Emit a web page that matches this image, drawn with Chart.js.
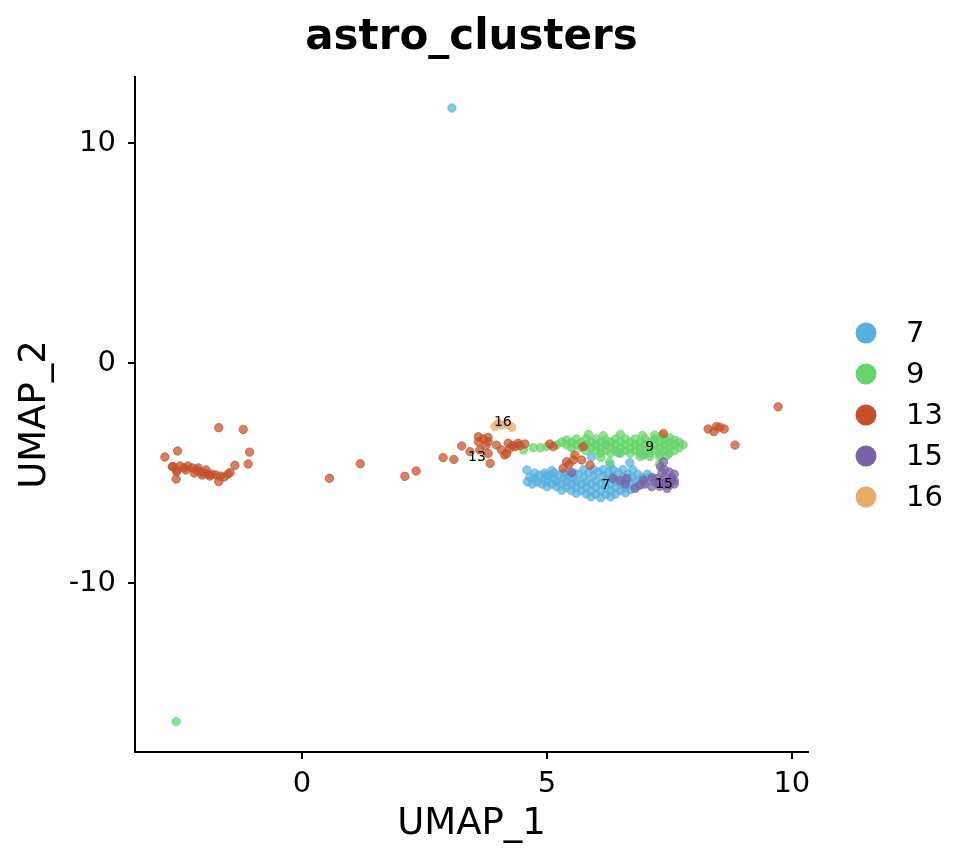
<!DOCTYPE html>
<html>
<head>
<meta charset="utf-8">
<script src="https://cdn.jsdelivr.net/npm/chart.js@4.4.1/dist/chart.umd.min.js"></script>
<style>
  body { margin: 0; background: #fff; }
  canvas { display: block; }
</style>
</head>
<body>
<canvas id="umap" width="960" height="864"></canvas>
<script>
// --- Data (UMAP coordinates) ---
const clusterNames = ['7', '9', '13', '15', '16'];
const clusterColors = ['#58B0DE', '#66D46A', '#C5502A', '#7A63A5', '#E5AD66'];

const cluster7 = [
    [3.06, 11.59], [4.59, -4.86], [5.10, -4.89], [5.91, -4.26], [6.69, -4.53], [6.29, -4.64],
    [6.97, -4.18], [6.46, -4.08], [5.00, -5.10],
    [4.75, -5.0], [4.95, -5.0], [5.15, -5.0], [5.35, -5.0], [5.55, -5.0],
    [5.75, -4.85], [5.95, -4.85], [6.15, -4.85], [6.35, -4.85], [6.55, -4.85], [6.75, -4.85],
    [4.85, -5.1], [5.05, -5.1], [5.25, -5.1], [5.45, -5.1], [5.65, -5.05], [5.85, -5.0], [6.05, -4.95],
    [6.25, -5.0], [6.45, -5.0], [6.65, -5.05], [6.85, -5.05], [7.05, -5.05],
    [4.65, -5.2], [4.75, -5.25], [4.95, -5.25], [5.15, -5.25], [5.35, -5.25], [5.55, -5.25], [5.75, -5.2],
    [5.95, -5.15], [6.15, -5.15], [6.35, -5.15], [6.55, -5.2], [6.75, -5.2], [6.95, -5.2], [7.1, -5.2],
    [4.6, -5.4], [4.8, -5.4], [5.0, -5.4], [5.2, -5.4], [5.4, -5.4], [5.6, -5.4], [5.8, -5.4],
    [6.0, -5.35], [6.2, -5.35], [6.4, -5.35], [6.6, -5.4], [6.8, -5.4], [7.0, -5.4],
    [4.7, -5.5], [4.9, -5.5], [5.1, -5.5], [5.3, -5.5], [5.5, -5.5], [5.7, -5.5], [5.9, -5.5],
    [6.1, -5.5], [6.3, -5.5], [6.5, -5.5], [6.7, -5.5], [6.9, -5.5],
    [5.0, -5.62], [5.2, -5.62], [5.4, -5.65], [5.6, -5.65], [5.8, -5.65], [6.0, -5.65], [6.2, -5.65],
    [6.4, -5.65], [6.6, -5.65], [6.8, -5.62],
    [5.3, -5.78], [5.5, -5.8], [5.7, -5.8], [5.9, -5.82], [6.1, -5.82], [6.3, -5.82], [6.5, -5.8], [6.7, -5.75],
    [5.6, -5.92], [5.8, -5.95], [6.0, -5.97], [6.2, -5.97], [6.4, -5.95], [6.6, -5.9],
    [5.9, -6.08], [6.1, -6.12], [6.3, -6.08]
];

const cluster9 = [
    [-2.57, -16.3], [4.52, -3.95], [4.72, -3.85], [4.87, -3.85], [5.0, -3.8],
    [5.85, -3.25], [6.15, -3.3], [6.5, -3.25], [6.95, -3.3], [7.2, -3.28], [7.35, -3.3], [7.5, -3.4], [7.6, -3.5],
    [5.4, -3.5], [5.6, -3.45], [5.8, -3.45], [6.0, -3.45], [6.2, -3.5], [6.4, -3.45], [6.6, -3.45],
    [6.8, -3.45], [7.0, -3.45], [7.2, -3.45], [7.4, -3.5],
    [5.3, -3.6], [5.5, -3.6], [5.7, -3.6], [5.9, -3.6], [6.1, -3.6], [6.3, -3.6], [6.5, -3.6],
    [6.7, -3.6], [6.9, -3.6], [7.1, -3.6], [7.3, -3.6], [7.5, -3.6], [7.7, -3.6],
    [5.2, -3.72], [5.4, -3.72], [5.6, -3.72], [5.8, -3.72], [6.0, -3.72], [6.2, -3.72], [6.4, -3.72],
    [6.6, -3.72], [6.8, -3.72], [7.0, -3.72], [7.2, -3.72], [7.4, -3.72], [7.6, -3.72], [7.78, -3.72],
    [5.5, -3.85], [5.7, -3.85], [5.9, -3.85], [6.1, -3.85], [6.3, -3.85], [6.5, -3.85], [6.7, -3.85],
    [6.9, -3.85], [7.1, -3.85], [7.3, -3.85], [7.5, -3.85], [7.7, -3.85],
    [5.8, -3.98], [6.0, -3.98], [6.2, -3.98], [6.4, -3.98], [6.6, -3.98], [6.8, -3.98], [7.0, -3.98],
    [7.2, -3.98], [7.4, -3.98], [7.6, -3.98],
    [6.1, -4.1], [6.3, -4.1], [6.5, -4.1], [6.7, -4.1], [6.9, -4.1], [7.1, -4.1], [7.3, -4.1], [7.5, -4.1],
    [6.1, -4.3], [6.9, -4.25], [7.1, -4.25], [7.3, -4.25], [7.45, -4.2],
    [6.28, -4.5], [7.3, -4.6]
];

const cluster13 = [
    [-1.70, -2.94], [-1.20, -3.02], [-2.54, -4.00], [-2.80, -4.27], [-1.07, -4.05], [-1.10, -4.59],
    [-1.37, -4.65], [-1.47, -4.98], [-2.65, -4.71], [-2.57, -5.27], [-1.70, -5.39], [-2.56, -4.86],
    [-2.63, -4.71], [-2.56, -4.94],
    [-2.49, -4.68], [-2.41, -4.77], [-2.33, -4.68], [-2.24, -4.77], [-2.16, -4.86], [-2.08, -4.95],
    [-2.00, -5.00], [-1.92, -5.05], [-1.84, -5.05], [-1.76, -5.09], [-1.67, -5.14], [-2.37, -4.86],
    [-2.20, -5.00], [-2.04, -5.09], [-1.88, -5.14], [-1.59, -5.18], [-1.51, -5.05], [-2.12, -4.77],
    [-1.96, -4.86],
    [0.56, -5.24], [1.19, -4.58], [2.10, -5.15], [2.33, -4.91],
    [2.88, -4.30], [3.10, -4.38], [3.26, -3.77], [3.43, -4.03], [3.60, -3.35], [3.80, -3.38],
    [3.60, -3.58], [3.80, -3.58], [3.63, -3.95], [3.80, -4.11], [3.84, -4.56], [3.97, -3.73],
    [4.07, -3.95], [4.18, -4.11], [4.24, -3.88], [4.35, -3.80], [4.41, -3.65], [4.55, -3.68],
    [4.21, -3.65], [4.14, -4.18], [3.70, -3.45], [3.75, -3.75], [4.30, -3.75], [4.45, -3.75],
    [5.06, -3.68], [5.13, -3.80], [5.74, -3.80], [5.57, -4.18], [5.71, -4.41], [5.40, -4.49],
    [5.33, -4.79], [5.88, -4.64], [5.54, -4.41], [5.45, -4.62], [7.38, -3.20],
    [9.72, -1.99], [8.29, -3.00], [8.41, -3.12], [8.46, -2.89], [8.53, -2.92], [8.62, -3.00], [8.84, -3.73]
];

const cluster15 = [
    [5.50, -4.98], [6.35, -5.25], [6.50, -5.35], [6.63, -5.24], [6.80, -5.70], [6.97, -5.32],
    [7.14, -5.62], [7.00, -5.50], [7.20, -5.40], [7.38, -4.49], [7.32, -4.72], [6.90, -5.55], [6.60, -5.50],
    [7.35, -5.0], [7.5, -4.95], [7.6, -5.05], [7.4, -5.2], [7.55, -5.2], [7.45, -5.4], [7.6, -5.35],
    [7.35, -5.45], [7.5, -5.55], [7.3, -5.6], [7.45, -5.7], [7.6, -5.5], [7.25, -5.25], [7.15, -5.2],
    [7.4, -4.85], [7.55, -5.3], [7.28, -5.45], [7.42, -5.55]
];

const cluster16 = [[3.94, -2.89], [4.01, -2.74], [4.28, -2.92], [4.07, -2.82], [4.20, -2.80]];

// cluster label positions (data coords)
const labelPositions = [[6.2, -5.55], [7.1, -3.82], [3.57, -4.27], [7.39, -5.5], [4.1, -2.68]];

const xTicks = [0, 5, 10];
const yTicks = [-10, 0, 10];

const allClusters = [cluster7, cluster9, cluster13, cluster15, cluster16];

function withAlpha(hex, a) {
    const n = parseInt(hex.slice(1), 16);
    return `rgba(${(n >> 16) & 255}, ${(n >> 8) & 255}, ${n & 255}, ${a})`;
}

// --- Title, legend and cluster labels ---
const decorPlugin = {
    id: 'decor',
    afterDraw(chart) {
        const ctx = chart.ctx;
        const area = chart.chartArea;
        const xs = chart.scales.x, ys = chart.scales.y;
        ctx.save();
        ctx.fillStyle = '#000';

        // title centred over the panel
        ctx.font = 'bold 42px "DejaVu Sans"';
        ctx.textAlign = 'center';
        ctx.textBaseline = 'middle';
        ctx.fillText('astro_clusters', (area.left + area.right) / 2, 38);

        // labels on clusters
        ctx.font = '14px "DejaVu Sans"';
        labelPositions.forEach((p, i) => {
            ctx.fillText(clusterNames[i], xs.getPixelForValue(p[0]), ys.getPixelForValue(p[1]));
        });

        // legend
        ctx.font = '29px "DejaVu Sans"';
        ctx.textAlign = 'left';
        clusterNames.forEach((name, i) => {
            const cy = 333 + i * 41;
            ctx.beginPath();
            ctx.arc(866, cy, 10.5, 0, Math.PI * 2);
            ctx.fillStyle = clusterColors[i];
            ctx.fill();
            ctx.fillStyle = '#000';
            ctx.fillText(name, 906, cy + 1);
        });
        ctx.restore();
    }
};

const tickFont = { family: 'DejaVu Sans', size: 29 };
const titleFont = { family: 'DejaVu Sans', size: 37 };

new Chart(document.getElementById('umap'), {
    type: 'scatter',
    data: {
        datasets: allClusters.map((pts, i) => ({
            label: clusterNames[i],
            data: pts.map(p => ({ x: p[0], y: p[1] })),
            backgroundColor: withAlpha(clusterColors[i], 0.72),
            borderColor: withAlpha(clusterColors[i], 0.9),
            borderWidth: 0.8,
            pointRadius: 4.2,
            order: 5 - i
        }))
    },
    options: {
        responsive: false,
        animation: false,
        devicePixelRatio: 1,
        layout: { padding: { top: 77, right: 152, left: 0, bottom: 0 } },
        plugins: {
            legend: { display: false },
            title: { display: false },
            tooltip: { enabled: false }
        },
        scales: {
            x: {
                type: 'linear',
                min: -3.41,
                max: 10.33,
                afterBuildTicks: s => { s.ticks = xTicks.map(v => ({ value: v })); },
                afterFit: s => { s.height = 112; },
                grid: { drawOnChartArea: false, color: '#000', lineWidth: 2, tickLength: 7 },
                border: { color: '#000', width: 2 },
                ticks: { color: '#000', font: tickFont, padding: 8, maxRotation: 0 },
                title: { display: true, text: 'UMAP_1', color: '#000', font: titleFont, padding: { top: 0, bottom: 17 } }
            },
            y: {
                type: 'linear',
                min: -17.68,
                max: 13.0,
                afterBuildTicks: s => { s.ticks = yTicks.map(v => ({ value: v })); },
                afterFit: s => { s.width = 135; },
                grid: { drawOnChartArea: false, color: '#000', lineWidth: 2, tickLength: 7 },
                border: { color: '#000', width: 2 },
                ticks: { color: '#000', font: tickFont, padding: 12 },
                title: { display: true, text: 'UMAP_2', color: '#000', font: titleFont, padding: { top: 13, bottom: 0 } }
            }
        }
    },
    plugins: [decorPlugin]
});
</script>
</body>
</html>
